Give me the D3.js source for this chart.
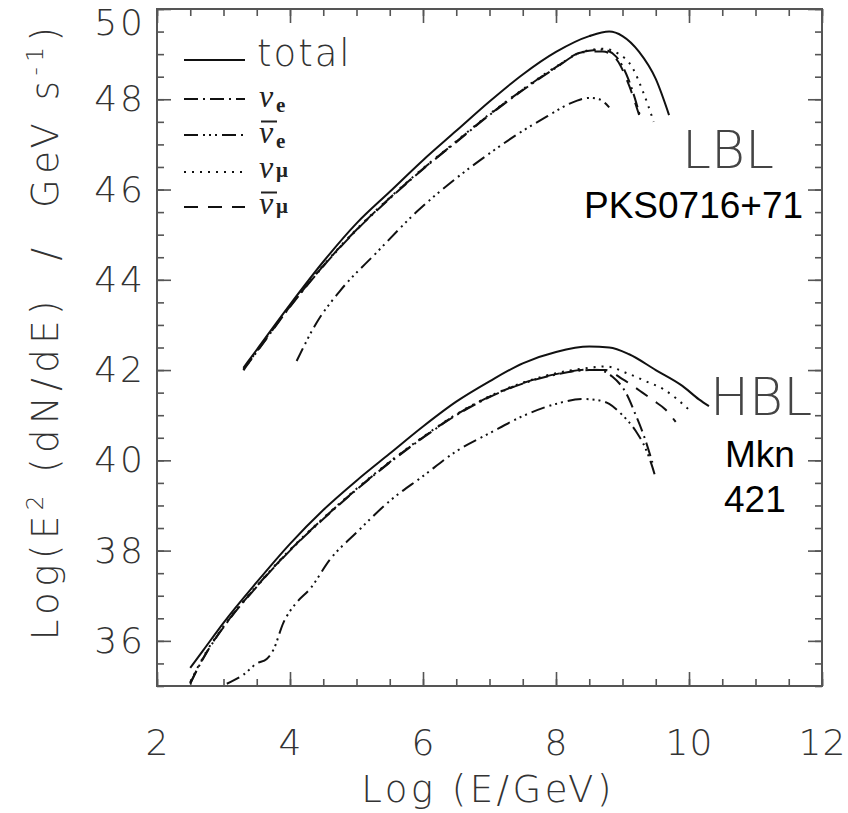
<!DOCTYPE html>
<html>
<head>
<meta charset="utf-8">
<script src="https://cdn.jsdelivr.net/npm/d3@7"></script>
<style>
  body { margin: 0; background: #fff; }
  .axis text { font-family: "DejaVu Sans"; font-weight: 200; font-size: 36px; letter-spacing: 3px; fill: #333; }
  .axis path { display: none; }
  .axis line { stroke: #555; stroke-width: 1.6; }
  .frame { fill: none; stroke: #555; stroke-width: 2; }
  .curve { fill: none; stroke: #111; stroke-width: 2; }
  .title { font-family: "DejaVu Sans"; font-weight: 200; font-size: 37px; fill: #333; }
  .big { font-family: "DejaVu Sans"; font-weight: 200; font-size: 52px; fill: #444; }
  .name { font-family: "Liberation Sans", Arial; font-size: 37px; fill: #000; }
  .nu { font-family: "Liberation Serif"; font-style: italic; font-size: 32px; fill: #222; }
  .sub { font-family: "Liberation Serif"; font-weight: bold; font-size: 21px; fill: #222; }
</style>
</head>
<body>
<svg id="chart" width="848" height="813"></svg>
<script>
// ---- data: [log E, log E^2 dN/dE] ----
const xTicks = [2, 4, 6, 8, 10, 12];
const yTicks = [36, 38, 40, 42, 44, 46, 48, 50];

// LBL (PKS0716+71)
const lblTotal = [[3.3,42.05],[3.5,42.45],[4.0,43.45],[4.5,44.4],[5.0,45.25],[5.5,45.95],[6.0,46.65],[6.5,47.3],[7.0,47.95],[7.5,48.55],[8.0,49.05],[8.5,49.4],[8.8,49.5],[9.0,49.4],[9.25,49.05],[9.5,48.45],[9.7,47.65]];
const lblNuE = [[3.3,42.0],[3.5,42.4],[4.0,43.4],[4.5,44.3],[5.0,45.1],[5.5,45.8],[6.0,46.45],[6.5,47.05],[7.0,47.65],[7.5,48.2],[8.0,48.7],[8.4,49.05],[8.7,49.1],[8.9,48.95],[9.1,48.4],[9.27,47.6]];
const lblNuEbar = [[4.1,42.2],[4.4,43.05],[4.75,43.75],[5.3,44.6],[5.9,45.5],[6.5,46.25],[7.0,46.8],[7.5,47.3],[7.9,47.65],[8.2,47.9],[8.5,48.03],[8.65,48.0],[8.8,47.82]];
const lblNuMu = [[3.3,42.0],[3.5,42.42],[4.0,43.42],[4.5,44.32],[5.0,45.12],[5.5,45.82],[6.0,46.47],[6.5,47.07],[7.0,47.67],[7.5,48.22],[8.0,48.72],[8.4,49.05],[8.7,49.12],[8.95,49.0],[9.15,48.7],[9.3,48.2],[9.47,47.5]];
const lblNuMubar = [[3.3,42.02],[3.5,42.41],[4.0,43.41],[4.5,44.31],[5.0,45.11],[5.5,45.81],[6.0,46.46],[6.5,47.06],[7.0,47.66],[7.5,48.21],[8.0,48.71],[8.4,49.04],[8.7,49.06],[8.9,48.9],[9.1,48.3],[9.25,47.65]];

// HBL (Mkn 421)
const hblTotal = [[2.5,35.4],[2.7,35.8],[3.0,36.4],[3.5,37.3],[4.0,38.15],[4.5,38.9],[5.0,39.55],[5.5,40.15],[6.0,40.75],[6.5,41.3],[7.0,41.75],[7.5,42.15],[8.0,42.4],[8.5,42.52],[8.8,42.5],[9.1,42.35],[9.5,42.0],[9.9,41.65],[10.15,41.35],[10.3,41.2]];
const hblNuE = [[2.5,35.05],[2.6,35.35],[2.75,35.75],[3.0,36.3],[3.5,37.2],[4.0,38.0],[4.5,38.7],[5.0,39.35],[5.5,39.95],[6.0,40.5],[6.5,41.0],[7.0,41.4],[7.5,41.7],[8.0,41.9],[8.5,42.0],[8.65,42.0],[8.85,41.85],[9.05,41.5],[9.2,41.0],[9.32,40.55],[9.45,39.95]];
const hblNuEbar = [[3.05,35.05],[3.3,35.25],[3.5,35.5],[3.65,35.6],[3.75,35.8],[3.9,36.4],[4.1,36.85],[4.3,37.15],[4.6,37.8],[5.0,38.4],[5.5,39.1],[6.0,39.65],[6.5,40.2],[7.0,40.6],[7.5,40.98],[8.0,41.25],[8.4,41.36],[8.6,41.34],[8.8,41.25],[9.0,41.0],[9.2,40.65],[9.35,40.25],[9.45,39.85],[9.5,39.6]];
const hblNuMu = [[2.5,35.08],[2.6,35.38],[2.75,35.78],[3.0,36.32],[3.5,37.22],[4.0,38.02],[4.5,38.72],[5.0,39.37],[5.5,39.97],[6.0,40.52],[6.5,41.02],[7.0,41.42],[7.5,41.72],[8.0,41.93],[8.5,42.05],[8.75,42.08],[9.07,41.93],[9.37,41.74],[9.61,41.58],[9.8,41.38],[10.05,41.05]];
const hblNuMubar = [[2.5,35.06],[2.6,35.36],[2.75,35.76],[3.0,36.31],[3.5,37.21],[4.0,38.01],[4.5,38.71],[5.0,39.36],[5.5,39.96],[6.0,40.51],[6.5,41.01],[7.0,41.41],[7.5,41.71],[8.0,41.91],[8.5,42.01],[8.75,42.0],[9.0,41.8],[9.3,41.5],[9.46,41.33],[9.65,41.12],[9.8,40.85]];

const dashes = {
  total: null,
  nue: "14,5,2,5",
  nuebar: "14,5,2,4,2,4,2,5",
  numu: "2,6",
  numubar: "14,10"
};

const svg = d3.select("#chart");
const plotLeft = 157, plotRight = 822, plotTop = 9, plotBottom = 686;

const x = d3.scaleLinear().domain([2, 12]).range([plotLeft, plotRight]);
const y = d3.scaleLinear().domain([35, 50]).range([plotBottom, plotTop]);

const minorX = d3.range(2, 12.01, 0.5);
const minorY = d3.range(35, 50.01, 0.5);

// ticks on all four sides, pointing inward
function ticks(axisFn, scale, pos, values, size, labels) {
  const g = svg.append("g").attr("class", "axis").attr("transform", pos);
  const ax = axisFn(scale).tickValues(values).tickSize(size);
  if (!labels) ax.tickFormat("");
  return g.call(ax);
}
ticks(d3.axisBottom, x, `translate(0,${plotBottom})`, minorX, -7, false);
ticks(d3.axisTop, x, `translate(0,${plotTop})`, minorX, -7, false);
ticks(d3.axisLeft, y, `translate(${plotLeft},0)`, minorY, -7, false);
ticks(d3.axisRight, y, `translate(${plotRight},0)`, minorY, -7, false);
ticks(d3.axisTop, x, `translate(0,${plotTop})`, xTicks, -14, false);
ticks(d3.axisRight, y, `translate(${plotRight},0)`, yTicks, -14, false);

const xAxis = ticks(d3.axisBottom, x, `translate(0,${plotBottom})`, xTicks, -14, true);
xAxis.selectAll(".tick text").attr("y", 43).style("letter-spacing", "1px");

const yAxis = ticks(d3.axisLeft, y, `translate(${plotLeft},0)`, yTicks, -14, true);
yAxis.selectAll(".tick text").attr("x", -11);
yAxis.selectAll(".tick").filter(d => d === 50).select("text").attr("dy", "0.7em");

svg.append("rect").attr("class", "frame")
  .attr("x", plotLeft).attr("y", plotTop)
  .attr("width", plotRight - plotLeft).attr("height", plotBottom - plotTop);

// curves
const line = d3.line().x(d => x(d[0])).y(d => y(d[1])).curve(d3.curveMonotoneX);
const series = [
  [lblTotal, "total"], [lblNuE, "nue"], [lblNuEbar, "nuebar"], [lblNuMu, "numu"], [lblNuMubar, "numubar"],
  [hblTotal, "total"], [hblNuE, "nue"], [hblNuEbar, "nuebar"], [hblNuMu, "numu"], [hblNuMubar, "numubar"]
];
svg.append("g").selectAll("path").data(series).join("path")
  .attr("class", "curve")
  .attr("d", d => line(d[0]))
  .attr("stroke-dasharray", d => dashes[d[1]]);

// axis titles
svg.append("text").attr("class", "title")
  .attr("x", 488).attr("y", 802).attr("text-anchor", "middle")
  .attr("letter-spacing", 3.5)
  .text("Log (E/GeV)");

const yt = svg.append("text").attr("class", "title")
  .attr("transform", "translate(58,331) rotate(-90)")
  .attr("text-anchor", "middle")
  .attr("letter-spacing", 5.5)
  .attr("xml:space", "preserve");
yt.append("tspan").text("Log(E");
yt.append("tspan").attr("font-size", 23).attr("dy", -15).text("2");
yt.append("tspan").attr("dy", 15).text(" (dN/dE)  /  GeV s");
yt.append("tspan").attr("font-size", 23).attr("dy", -15).text("-1");
yt.append("tspan").attr("dy", 15).text(")");

// legend
const legend = [
  { key: "total", y: 60 },
  { key: "nue", y: 99, base: 107, sub: "e" },
  { key: "nuebar", y: 135, base: 142.5, sub: "e", bar: true },
  { key: "numu", y: 172, base: 178, sub: "μ" },
  { key: "numubar", y: 207, base: 213.5, sub: "μ", bar: true }
];
const lg = svg.append("g");
lg.selectAll("line.key").data(legend).join("line")
  .attr("class", "curve")
  .attr("x1", 184).attr("x2", 245)
  .attr("y1", d => d.y).attr("y2", d => d.y)
  .attr("stroke-dasharray", d => dashes[d.key]);

lg.append("text").attr("class", "title").attr("font-size", 41)
  .attr("letter-spacing", 2)
  .attr("x", 257).attr("y", 66).text("total");

legend.filter(d => d.sub).forEach(d => {
  lg.append("text").attr("class", "nu").attr("x", 259).attr("y", d.base).text("ν");
  lg.append("text").attr("class", "sub")
    .attr("x", 276).attr("y", d.base + (d.sub === "e" ? 5 : -1)).text(d.sub);
  if (d.bar) {
    lg.append("line").attr("x1", 261).attr("x2", 277)
      .attr("y1", d.base - 21).attr("y2", d.base - 21)
      .attr("stroke", "#222").attr("stroke-width", 2);
  }
});

// labels for the two sources
svg.append("text").attr("class", "big").attr("x", 682).attr("y", 168).text("LBL");
svg.append("text").attr("class", "name").attr("x", 584).attr("y", 218).text("PKS0716+71");
svg.append("text").attr("class", "big").attr("x", 710).attr("y", 415).text("HBL");
svg.append("text").attr("class", "name").attr("x", 725).attr("y", 467).text("Mkn");
svg.append("text").attr("class", "name").attr("x", 724).attr("y", 512).text("421");
</script>
</body>
</html>
